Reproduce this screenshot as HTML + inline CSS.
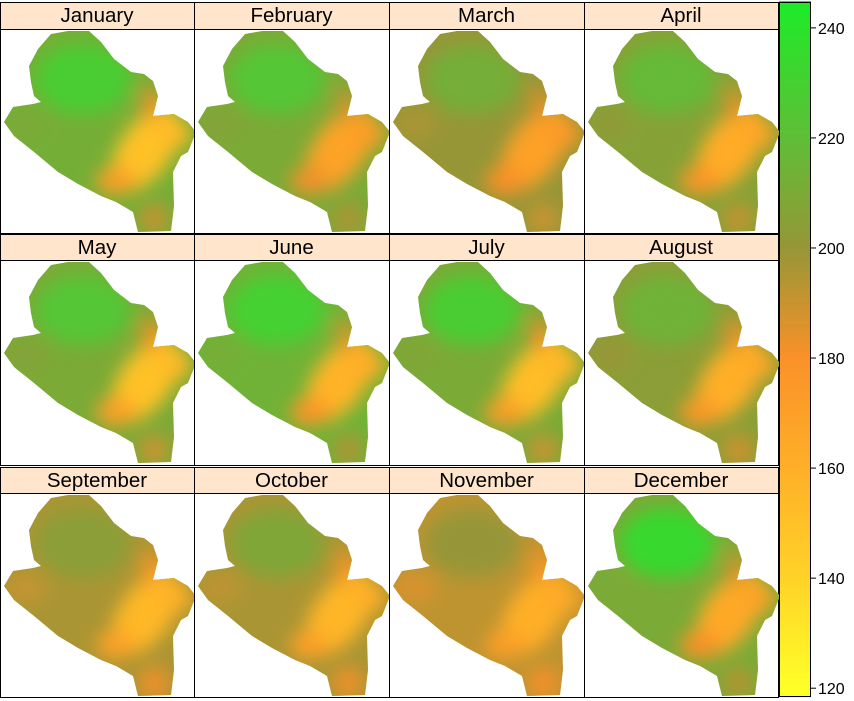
<!DOCTYPE html>
<html><head><meta charset="utf-8">
<style>
body{margin:0;background:#fff;width:854px;height:701px;overflow:hidden;font-family:"Liberation Sans",sans-serif}
svg{position:absolute;left:0;top:0}
</style></head><body>
<svg id="c" width="854" height="701"></svg>
<script>
const months=["January","February","March","April","May","June","July","August","September","October","November","December"];
const nwVals=[228,224,212,218,224,230,228,214,204,208,200,234];
const midVals=[212,210,200,206,210,214,210,204,196,196,192,210];
const seVals=[150,168,170,162,150,158,152,160,155,156,160,164];
const tickVals=[120,140,160,180,200,220,240];
const vMin=118.4,vMax=244.7;
const NS="http://www.w3.org/2000/svg";
const svg=document.getElementById('c');
function mk(t,a,p){const e=document.createElementNS(NS,t);for(const k in a)e.setAttribute(k,a[k]);(p||svg).appendChild(e);return e;}
const stops=[[120,[255,255,40]],[140,[255,210,40]],[160,[255,175,40]],[180,[250,145,40]],[200,[150,150,55]],[220,[95,190,55]],[244,[30,235,40]]];
function col(v){v=Math.max(120,Math.min(244,v));for(let i=0;i<stops.length-1;i++){const[a,ca]=stops[i],[b,cb]=stops[i+1];if(v<=b){const t=(v-a)/(b-a);return"rgb("+ca.map((c,j)=>Math.round(c+(cb[j]-c)*t)).join(",")+")";}}return"rgb(30,235,40)";}
const shape="50,5 67,2 88,2 100,13 113,30 130,43 143,45 152,52 157,67 152,87 173,85 187,93 195,103 187,123 180,127 172,143 173,177 170,202 137,203 132,183 115,173 100,167 77,155 57,143 33,123 13,107 3,93 12,78 32,75 40,73 33,67 30,53 28,37 37,20";
const defs=mk('defs',{});
const clip=mk('clipPath',{id:'cl'},defs);mk('polygon',{points:shape},clip);
const f=mk('filter',{id:'bl',x:'-50%',y:'-50%',width:'200%',height:'200%'},defs);mk('feGaussianBlur',{stdDeviation:'9'},f);
const colX=[0,194,389,584,778];const rowY=[[2,29,233],[234,260,465],[467,493,697]];
months.forEach((m,i)=>{
 const c=i%4,r=Math.floor(i/4);const x0=colX[c],x1=colX[c+1];const [sy,py,pb]=rowY[r];
 const g=mk('g',{});
 const s=mk('rect',{x:x0+0.5,y:sy+0.5,width:x1-x0,height:py-sy,fill:'#ffe5cc',stroke:'#000'},g);
 
 const t=mk('text',{x:(x0+x1)/2,y:sy+20,'text-anchor':'middle','font-size':'20.5',fill:'#000'},g);t.textContent=m;
 
 mk('rect',{x:x0+0.5,y:py+0.5,width:x1-x0,height:pb-py,fill:'#fff',stroke:'#000'},g);
 const m0=mk('g',{transform:`translate(${x0+1},${py})`},g);
 
 const inner=mk('g',{'clip-path':'url(#cl)'},m0);
 mk('rect',{x:0,y:0,width:200,height:210,fill:col(midVals[i])},inner);
 const b=mk('g',{filter:'url(#bl)'},inner);
 mk('ellipse',{cx:82,cy:50,rx:48,ry:35,fill:col(nwVals[i])},b);
 mk('ellipse',{cx:25,cy:95,rx:22,ry:15,fill:col((nwVals[i]+midVals[i]*2)/3-8)},b);
 mk('ellipse',{cx:145,cy:120,rx:26,ry:48,fill:col(seVals[i]),transform:'rotate(35 145 120)'},b);
 mk('ellipse',{cx:150,cy:75,rx:9,ry:18,fill:col((seVals[i]+midVals[i])/2)},b);
 mk('ellipse',{cx:175,cy:105,rx:16,ry:14,fill:col(seVals[i]+4)},b);
 mk('ellipse',{cx:115,cy:152,rx:20,ry:14,fill:col((seVals[i]*2+midVals[i])/3)},b);
 mk('ellipse',{cx:153,cy:190,rx:16,ry:16,fill:col((seVals[i]+midVals[i]*2)/3)},b);
});
const yOf=v=>2+(vMax-v)/(vMax-vMin)*695;
const cb=mk('g',{});
for(let v=vMin;v<vMax;v+=0.5){mk('rect',{x:779,y:yOf(v+0.5),width:32,height:695/(vMax-vMin)*0.5+0.6,fill:col(v)},cb);}
mk('rect',{x:779.5,y:2.5,width:31,height:694,fill:'none',stroke:'#000'},cb);
tickVals.forEach(v=>{const y=yOf(v);mk('line',{x1:811,x2:816,y1:y,y2:y,stroke:'#000'},cb);
 const t=mk('text',{x:818,y:y+6,'font-size':'16',fill:'#000'},cb);t.textContent=v;
 });
</script>
</body></html>
